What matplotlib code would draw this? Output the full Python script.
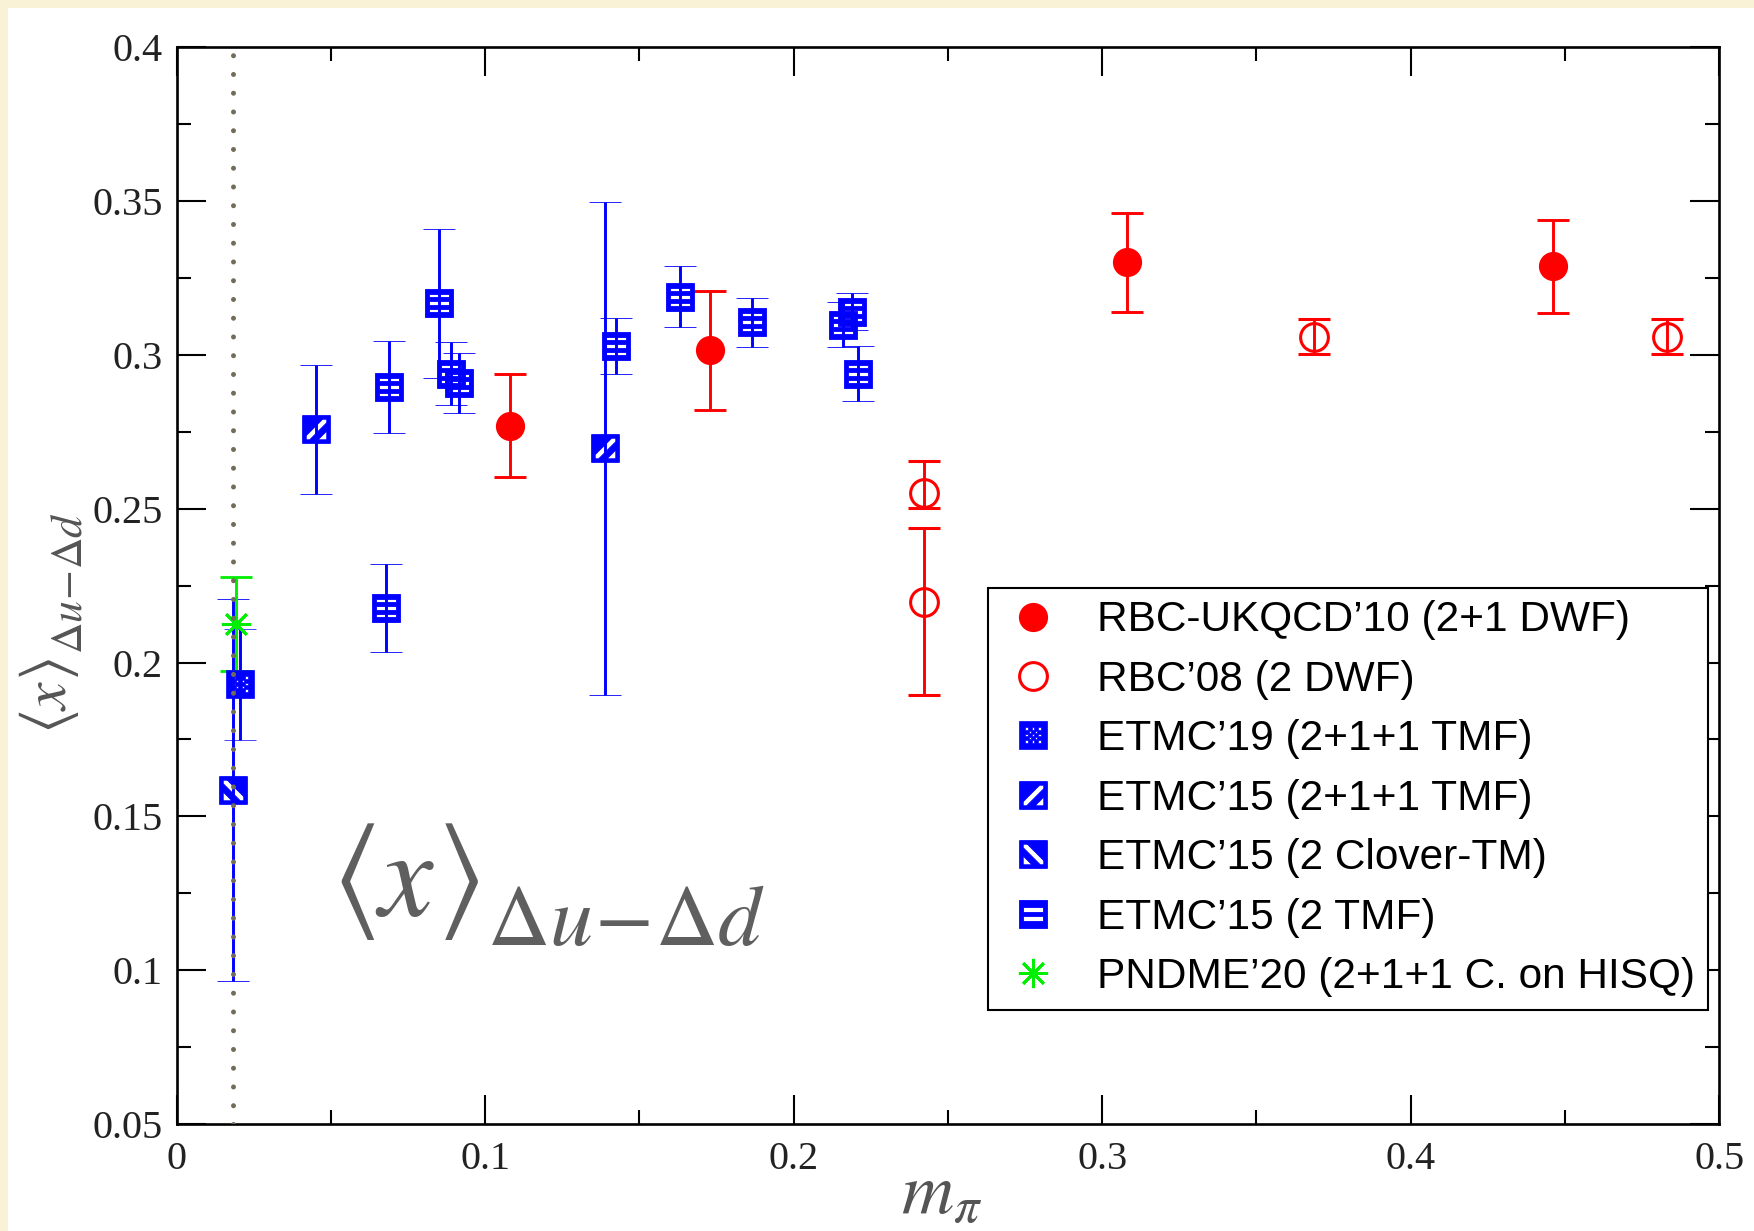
#!/usr/bin/env python
# -*- coding: utf-8 -*-

import matplotlib
matplotlib.use('Agg')
import matplotlib.pyplot as plt
from matplotlib.path import Path
from matplotlib.lines import Line2D
from matplotlib.patches import Rectangle
from matplotlib.ticker import MultipleLocator, FuncFormatter

# ---- data (m_pi, <x>_{Du-Dd}, error) ----
rbc10_x = [0.108, 0.173, 0.308, 0.446]
rbc10_y = [0.277, 0.3015, 0.330, 0.3288]
rbc10_err = [0.0167, 0.0193, 0.016, 0.0151]

rbc08_x = [0.2422, 0.2422, 0.3687, 0.4831]
rbc08_y = [0.2552, 0.2198, 0.3059, 0.3059]
rbc08_lo = [0.0051, 0.0303, 0.0056, 0.0056]
rbc08_hi = [0.0104, 0.0238, 0.0056, 0.0056]

etmc19_x = [0.0205]
etmc19_y = [0.1929]
etmc19_err = [0.018]

etmc15_211_x = [0.0451, 0.139]
etmc15_211_y = [0.2758, 0.2696]
etmc15_211_err = [0.0209, 0.080]

etmc15_clover_x = [0.0184]
etmc15_clover_y = [0.1586]
etmc15_clover_err = [0.062]

etmc15_tmf_x = [0.0687, 0.0677, 0.0851, 0.0888, 0.0916, 0.1423, 0.1631, 0.1864, 0.216, 0.219, 0.221]
etmc15_tmf_y = [0.2896, 0.2178, 0.3167, 0.2939, 0.2909, 0.3028, 0.3189, 0.3105, 0.3097, 0.314, 0.2939]
etmc15_tmf_err = [0.015, 0.0143, 0.0241, 0.0103, 0.0098, 0.009, 0.0098, 0.008, 0.0073, 0.006, 0.009]

pndme_x = [0.0192]
pndme_y = [0.2125]
pndme_err = [0.0152]

phys_mpi = 0.0183

labels = [
    "RBC-UKQCD\u201910 (2+1 DWF)",
    "RBC\u201908 (2 DWF)",
    "ETMC\u201919 (2+1+1 TMF)",
    "ETMC\u201915 (2+1+1 TMF)",
    "ETMC\u201915 (2 Clover-TM)",
    "ETMC\u201915 (2 TMF)",
    "PNDME\u201920 (2+1+1 C. on HISQ)",
]

BLUE = '#0000ff'
RED = '#ff0000'
GREEN = '#00ee00'
W, H = 1754, 1231  # figure size in pixels (dpi 100)


# ---- patterned square markers (xmgrace style) ----
S = 0.74
INNER = [(-S, -S), (-S, S), (S, S), (S, -S)]  # clockwise -> holes


def clip(poly, a, b, c):
    """keep part of polygon with a*x + b*y <= c"""
    out = []
    n = len(poly)
    for i in range(n):
        p, q = poly[i], poly[(i + 1) % n]
        fp = a * p[0] + b * p[1] - c
        fq = a * q[0] + b * q[1] - c
        if fp <= 0:
            out.append(p)
        if fp * fq < 0:
            t = fp / (fp - fq)
            out.append((p[0] + t * (q[0] - p[0]), p[1] + t * (q[1] - p[1])))
    return out


def band(a, b, d1, d2):
    p = clip(INNER, a, b, d2)
    return clip(p, -a, -b, -d1)


def rect(x0, x1, y0, y1):
    return [(x0, y0), (x0, y1), (x1, y1), (x1, y0)]


def square_with_holes(holes):
    verts = [(-1, -1), (1, -1), (1, 1), (-1, 1), (-1, -1)]
    codes = [Path.MOVETO, Path.LINETO, Path.LINETO, Path.LINETO, Path.CLOSEPOLY]
    for h in holes:
        if len(h) < 3:
            continue
        verts += h + [h[0]]
        codes += [Path.MOVETO] + [Path.LINETO] * (len(h) - 1) + [Path.CLOSEPOLY]
    return Path(verts, codes)


hline3 = square_with_holes([rect(-S, S, 0.40, 0.66), rect(-S, S, -0.13, 0.13),
                            rect(-S, S, -0.66, -0.40)])
hline2 = square_with_holes([rect(-S, S, 0.15, 0.48), rect(-S, S, -0.48, -0.15)])
slash = square_with_holes([band(-1, 1, -0.25, 0.3), band(-1, 1, -1.6, -0.85)])
backslash = square_with_holes([band(1, 1, -0.25, 0.3), band(1, 1, -1.6, -0.85)])
dot_holes = []
h = 0.1
for px, py in [(-0.45, 0.45), (0.0, 0.45), (0.45, 0.45), (-0.22, 0.22), (0.22, 0.22),
               (-0.45, 0.0), (0.0, 0.0), (0.45, 0.0), (-0.22, -0.22), (0.22, -0.22),
               (-0.45, -0.45), (0.0, -0.45), (0.45, -0.45)]:
    dot_holes.append(rect(px - h, px + h, py - h, py + h))
dots = square_with_holes(dot_holes)


def bracket_label(fig, x0, y0, scale, color, rotated=False):
    """<x>_{Du-Dd} built from pieces.
    (x0, y0): pixel position of the left end at the baseline of x (y down)."""
    # (dx, dy) in px (dy down), text, fontsize, ha, va
    pieces = [
        (16, -33, r'$\langle$', 91, 'center', 'center'),
        (38, 0, r'$x$', 88, 'left', 'baseline'),
        (120, -33, r'$\rangle$', 91, 'center', 'center'),
        (150, 30, r'$\Delta u\!-\!\Delta d$', 62, 'left', 'baseline'),
    ]
    for dx, dy, txt, fs, ha, va in pieces:
        dx, dy = dx * scale, dy * scale
        if rotated:
            px, py = x0 + dy, y0 - dx
        else:
            px, py = x0 + dx, y0 + dy
        fig.text(px / W, 1 - py / H, txt, fontsize=fs * scale, color=color,
                 ha=ha, va=va, rotation=90 if rotated else 0, rotation_mode='anchor')


def draw_chart():
    plt.rcParams['font.family'] = ['Liberation Serif', 'DejaVu Serif']
    plt.rcParams['mathtext.fontset'] = 'stix'

    fig = plt.figure(figsize=(W / 100, H / 100), dpi=100)
    fig.patch.set_facecolor('#faf2d6')
    fig.patches.append(Rectangle((8 / W, 0), 1, 1 - 8 / H, transform=fig.transFigure,
                                 facecolor='white', edgecolor='none', zorder=-10))

    ax = fig.add_axes([0.1007, 0.0868, 0.8795, 0.8750])
    ax.set_facecolor('white')

    eb = dict(ls='none', elinewidth=2.1, capsize=11.5, capthick=2.1)
    sq = 20

    ax.errorbar(rbc10_x, rbc10_y, yerr=rbc10_err, marker='o', ms=20, color=RED,
                mfc=RED, mec=RED, **eb)
    ax.errorbar(rbc08_x, rbc08_y, yerr=[rbc08_lo, rbc08_hi], marker='o', ms=20, color=RED,
                mfc='none', mec=RED, mew=2.2, **eb)
    ax.errorbar(etmc15_tmf_x, etmc15_tmf_y, yerr=etmc15_tmf_err, marker=hline3, ms=sq,
                color=BLUE, mfc=BLUE, mec=BLUE, mew=0.6, **eb)
    ax.errorbar(etmc15_211_x, etmc15_211_y, yerr=etmc15_211_err, marker=slash, ms=sq,
                color=BLUE, mfc=BLUE, mec=BLUE, mew=0.6, **eb)
    ax.errorbar(etmc15_clover_x, etmc15_clover_y, yerr=etmc15_clover_err, marker=backslash,
                ms=sq, color=BLUE, mfc=BLUE, mec=BLUE, mew=0.6, **eb)
    ax.errorbar(etmc19_x, etmc19_y, yerr=etmc19_err, marker=dots, ms=sq,
                color=BLUE, mfc=BLUE, mec=BLUE, mew=0.5, **eb)
    ax.errorbar(pndme_x, pndme_y, yerr=pndme_err, marker=(8, 2, 0), ms=21, color=GREEN,
                mec=GREEN, mew=2.0, **eb)

    # physical pion mass
    ax.axvline(phys_mpi, color='#736c5a', lw=3.6, linestyle=(0, (0.01, 3.74)),
               dash_capstyle='round', zorder=10)

    ax.set_xlim(0, 0.5)
    ax.set_ylim(0.05, 0.4)
    ax.xaxis.set_major_locator(MultipleLocator(0.1))
    ax.xaxis.set_minor_locator(MultipleLocator(0.05))
    ax.yaxis.set_major_locator(MultipleLocator(0.05))
    ax.yaxis.set_minor_locator(MultipleLocator(0.025))
    fmt = FuncFormatter(lambda v, p: '%g' % round(v, 4))
    ax.xaxis.set_major_formatter(fmt)
    ax.yaxis.set_major_formatter(fmt)
    ax.tick_params(which='both', direction='in', top=True, right=True, width=1.5,
                   color='black')
    ax.tick_params(which='major', length=21, labelsize=29, labelcolor='#222222')
    ax.tick_params(which='minor', length=10)
    ax.tick_params(axis='x', which='major', pad=12)
    ax.tick_params(axis='y', which='major', pad=10)
    for sp in ax.spines.values():
        sp.set_linewidth(1.9)

    # axis labels and big annotation
    fig.text(0.537, 0.0146, r'$m_\pi$', fontsize=52, color='#555555',
             ha='center', va='baseline')
    bracket_label(fig, 66, 730, 0.507, '#555555', rotated=True)
    bracket_label(fig, 337, 915, 1.0, '#5f5f5f')

    # legend with marker-only handles
    handles = [
        Line2D([], [], ls='none', marker='o', ms=20, color=RED),
        Line2D([], [], ls='none', marker='o', ms=20, mfc='none', mec=RED, mew=2.2),
        Line2D([], [], ls='none', marker=dots, ms=sq, color=BLUE, mew=0.5),
        Line2D([], [], ls='none', marker=slash, ms=sq, color=BLUE, mew=0.6),
        Line2D([], [], ls='none', marker=backslash, ms=sq, color=BLUE, mew=0.6),
        Line2D([], [], ls='none', marker=hline2, ms=sq, color=BLUE, mew=0.6),
        Line2D([], [], ls='none', marker=(8, 2, 0), ms=21, color=GREEN, mew=2.0),
    ]
    leg = ax.legend(handles, labels, loc='lower right', bbox_to_anchor=(0.9927, 0.106),
                    borderaxespad=0, prop={'family': 'Liberation Sans', 'size': 30.5},
                    borderpad=0.3, handlelength=1.5, handletextpad=0.77,
                    labelspacing=0.46, fancybox=False, framealpha=1, edgecolor='black')
    leg.get_frame().set_linewidth(1.5)
    leg.set_zorder(20)

    plt.savefig('out.png', dpi=100, facecolor=fig.get_facecolor())
    plt.close()


if __name__ == "__main__":
    draw_chart()
